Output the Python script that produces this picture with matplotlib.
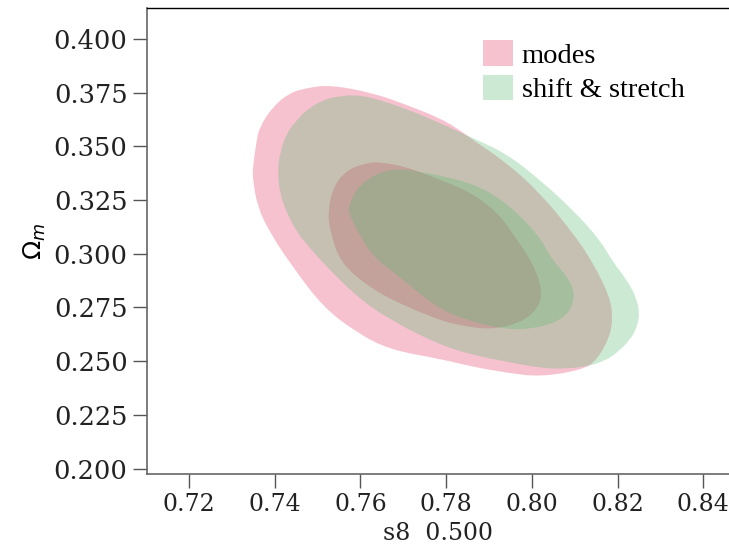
import matplotlib
matplotlib.use("Agg")
import matplotlib.pyplot as plt
from matplotlib.patches import Patch, PathPatch
from matplotlib.path import Path

# contour boundaries (s8, Omega_m)
modes_2s_s8 = [0.7529, 0.7629, 0.7708, 0.7785, 0.7832, 0.7862, 0.7942, 0.8019, 0.8096, 0.8143,
               0.8182, 0.8189, 0.8182, 0.8152, 0.8119, 0.8019, 0.7942, 0.7862, 0.7785, 0.7669,
               0.7592, 0.7512, 0.7435, 0.7388, 0.7360, 0.7349, 0.7349, 0.7358, 0.7365, 0.7395,
               0.7435, 0.7475]
modes_2s_om = [0.3786, 0.3749, 0.3693, 0.3632, 0.3576, 0.3530, 0.3423, 0.3283, 0.3097, 0.2958,
               0.2799, 0.2706, 0.2613, 0.2506, 0.2460, 0.2427, 0.2446, 0.2474, 0.2511, 0.2553,
               0.2632, 0.2753, 0.2958, 0.3102, 0.3218, 0.3344, 0.3404, 0.3530, 0.3590, 0.3684,
               0.3749, 0.3772]
modes_1s_s8 = [0.7645, 0.7708, 0.7769, 0.7862, 0.7925, 0.7949, 0.8003, 0.8026, 0.8012, 0.7972,
               0.7902, 0.7825, 0.7785, 0.7708, 0.7629, 0.7552, 0.7529, 0.7524, 0.7536, 0.7568,
               0.7615]
modes_1s_om = [0.3428, 0.3404, 0.3358, 0.3283, 0.3181, 0.3111, 0.2958, 0.2818, 0.2739, 0.2678,
               0.2646, 0.2669, 0.2692, 0.2753, 0.2832, 0.2958, 0.3111, 0.3190, 0.3311, 0.3390,
               0.3423]

shift_2s_s8 = [0.7552, 0.7599, 0.7645, 0.7708, 0.7785, 0.7862, 0.7942, 0.8019, 0.8096, 0.8159,
               0.8189, 0.8222, 0.8243, 0.8252, 0.8245, 0.8229, 0.8201, 0.8175, 0.8129, 0.8066,
               0.8019, 0.7942, 0.7862, 0.7785, 0.7669, 0.7592, 0.7512, 0.7470, 0.7452, 0.7428,
               0.7412, 0.7407, 0.7412, 0.7428, 0.7452, 0.7475, 0.7512]
shift_2s_om = [0.3735, 0.3739, 0.3716, 0.3674, 0.3609, 0.3539, 0.3465, 0.3344, 0.3204, 0.3065,
               0.2962, 0.2878, 0.2799, 0.2725, 0.2655, 0.2599, 0.2543, 0.2506, 0.2474, 0.2464,
               0.2469, 0.2497, 0.2529, 0.2576, 0.2692, 0.2799, 0.2958, 0.3055, 0.3102, 0.3190,
               0.3283, 0.3376, 0.3469, 0.3563, 0.3623, 0.3670, 0.3716]
shift_1s_s8 = [0.7669, 0.7746, 0.7862, 0.7942, 0.8019, 0.8042, 0.8089, 0.8101, 0.8082, 0.8019,
               0.7942, 0.7862, 0.7785, 0.7692, 0.7629, 0.7592, 0.7575, 0.7571, 0.7599]
shift_1s_om = [0.3400, 0.3381, 0.3330, 0.3237, 0.3079, 0.2985, 0.2878, 0.2799, 0.2706, 0.2655,
               0.2646, 0.2683, 0.2739, 0.2892, 0.2985, 0.3111, 0.3181, 0.3218, 0.3330]

labels = ["modes", "shift & stretch"]
colors = ["#e43762", "#58bc70"]
xticks = [0.72, 0.74, 0.76, 0.78, 0.80, 0.82, 0.84]
yticks = [0.200, 0.225, 0.250, 0.275, 0.300, 0.325, 0.350, 0.375, 0.400]


def smooth_contour(xs, ys):
    # closed quadratic spline using the read points as control points
    n = len(xs)
    mid = lambda i: ((xs[i % n] + xs[(i + 1) % n]) / 2, (ys[i % n] + ys[(i + 1) % n]) / 2)
    verts = [mid(-1)]
    codes = [Path.MOVETO]
    for i in range(n):
        verts += [(xs[i], ys[i]), mid(i)]
        codes += [Path.CURVE3, Path.CURVE3]
    verts.append(verts[0])
    codes.append(Path.CLOSEPOLY)
    return Path(verts, codes)


fig = plt.figure(figsize=(7.29, 5.44), dpi=100)
ax = fig.add_axes([0.2016, 0.1287, 0.7984, 0.8566])

alpha = 0.3
for xs, ys, c in [(modes_2s_s8, modes_2s_om, colors[0]),
                  (modes_1s_s8, modes_1s_om, colors[0]),
                  (shift_2s_s8, shift_2s_om, colors[1]),
                  (shift_1s_s8, shift_1s_om, colors[1])]:
    ax.add_patch(PathPatch(smooth_contour(xs, ys), facecolor=c, alpha=alpha, lw=0))

ax.set_xlim(0.7102, 0.846)
ax.set_ylim(0.1975, 0.4144)
ax.set_xticks(xticks)
ax.set_xticklabels(["%.2f" % v for v in xticks])
ax.set_yticks(yticks)
ax.set_yticklabels(["%.3f" % v for v in yticks])

for lab in ax.get_xticklabels():
    lab.set_family("DejaVu Serif")
    lab.set_fontsize(17)
    lab.set_color("#222222")
for lab in ax.get_yticklabels():
    lab.set_family("DejaVu Serif")
    lab.set_fontsize(18.5)
    lab.set_color("#222222")
ax.tick_params(direction="out", length=10, width=1, color="#555555", pad=4)

for s in ["left", "bottom"]:
    ax.spines[s].set_color("#666666")
    ax.spines[s].set_linewidth(1.2)
ax.spines["top"].set_color("black")
ax.spines["top"].set_linewidth(1.0)
ax.spines["right"].set_visible(False)

ax.set_xlabel("s8  0.500", family="DejaVu Serif", fontsize=17, color="#222222", labelpad=4)
ax.set_ylabel(r"$\Omega_m$", fontsize=18, labelpad=4)

handles = [Patch(facecolor=c, alpha=alpha, edgecolor="none") for c in colors]
ax.legend(handles, labels, loc="upper left", bbox_to_anchor=(0.558, 0.955),
          frameon=False, prop={"family": "Liberation Serif", "size": 20.5},
          handlelength=1.05, handleheight=1.0, handletextpad=0.3, labelspacing=0.2,
          borderaxespad=0)

fig.savefig("out.png", dpi=100)
